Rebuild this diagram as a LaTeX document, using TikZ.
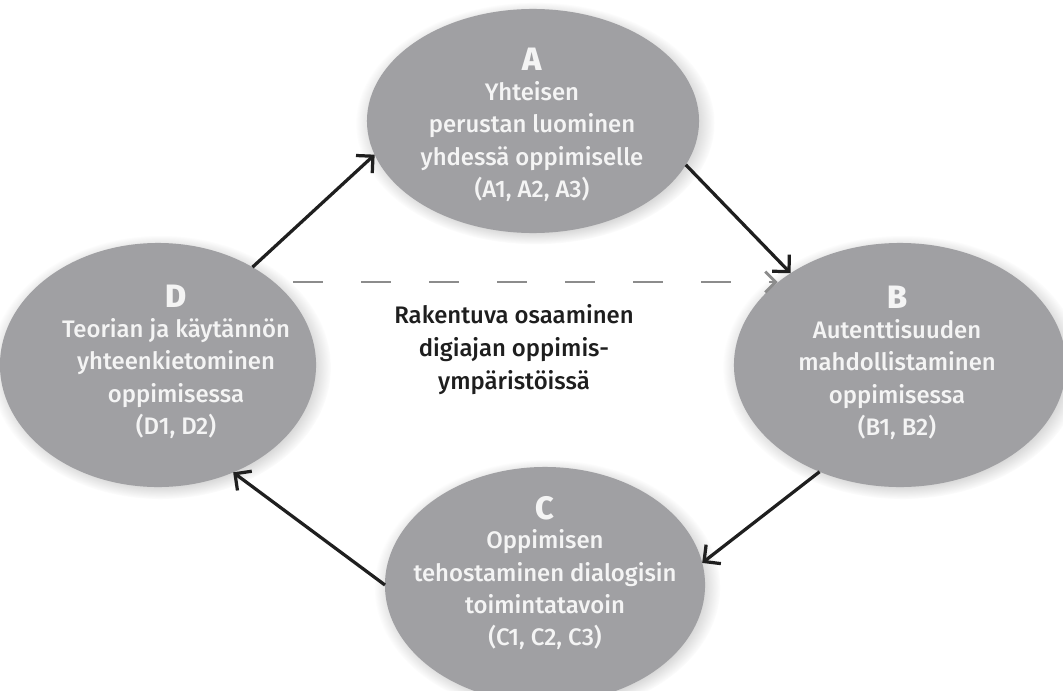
\documentclass[tikz,border=0pt]{standalone}
\usepackage{fontspec}
\setmainfont{Fira Sans}
\IfFontExistsTF{Fira Sans Medium}{\newfontfamily\bubblefont{Fira Sans Medium}}{\newfontfamily\bubblefont{Fira Sans}}
\IfFontExistsTF{Fira Sans ExtraBold}{\newfontfamily\stagefont{Fira Sans ExtraBold}}{\newfontfamily\stagefont{Fira Sans Bold}}
\usetikzlibrary{arrows.meta,shadows,shapes.geometric}

\definecolor{bubblegray}{RGB}{160,160,163}
\definecolor{bubbletext}{RGB}{244,244,244}
\definecolor{dashgray}{RGB}{140,140,140}
\definecolor{coretext}{RGB}{30,30,30}

\newcommand{\stagelabel}[1]{{\stagefont\fontsize{23}{24}\selectfont #1}\\[-2pt]}

\begin{document}
\begin{tikzpicture}[x=0.025cm, y=-0.025cm,
		bubble/.style={ellipse, fill=bubblegray, inner sep=0pt, outer sep=0pt,
			circular drop shadow={shadow scale=1.08, opacity=0.45, shadow xshift=1.5pt, shadow yshift=-1.5pt}},
		bubbletxt/.style={text=bubbletext, align=center, inner sep=0pt, font=\bubblefont\fontsize{17}{23}\selectfont},
		coretxt/.style={text=coretext, align=center, inner sep=0pt, font=\bubblefont\fontsize{17}{23.5}\selectfont},
		flow/.style={line width=2.3pt, black!88, -{Straight Barb[length=3mm, width=6mm]}},
		flowdash/.style={line width=2.1pt, dashgray, dash pattern=on 0.75cm off 0.95cm,
			-{Straight Barb[length=2.6mm, width=5.2mm]}}]
		
		\fill [white] (0, 0) rectangle (1063, 690);
		\useasboundingbox (0, 0) rectangle (1063, 690);
		
		% the four stages
		\node [bubble, minimum width=8.3cm, minimum height=5.6cm] (A) at (533, 121) {};
		\node [bubble, minimum width=8.3cm, minimum height=6.1cm] (B) at (900, 365) {};
		\node [bubble, minimum width=8.0cm, minimum height=5.9cm] (C) at (545, 585) {};
		\node [bubble, minimum width=7.9cm, minimum height=6.1cm] (D) at (158, 365) {};
		
		\node [bubbletxt] (Atxt) at (532, 125) {\stagelabel{A}Yhteisen\\perustan luominen\\yhdessä oppimiselle\\(A1, A2, A3)};
		\node [bubbletxt] (Btxt) at (897, 363) {\stagelabel{B}Autenttisuuden\\mahdollistaminen\\oppimisessa\\(B1, B2)};
		\node [bubbletxt] (Ctxt) at (545, 573) {\stagelabel{C}Oppimisen\\tehostaminen dialogisin\\toimintatavoin\\(C1, C2, C3)};
		\node [bubbletxt] (Dtxt) at (176, 362) {\stagelabel{D}Teorian ja käytännön\\yhteenkietominen\\oppimisessa\\(D1, D2)};
		
		\node [coretxt] (core) at (514, 350) {Rakentuva osaaminen\\digiajan oppimis-\\ympäristöissä};
		
		% cycle
		\draw [flow] (D.46) -- (A.192);
		\draw [flow] (A.-16) -- (B.140);
		\draw [flow] (B.233) -- (C.8);
		\draw [flow] (C.180) -- (D.-55);
		
		\coordinate (dstart) at (293, 282);
		\draw [flowdash] (dstart) -- (dstart -| B.146);
		
	\end{tikzpicture}
\end{document}
